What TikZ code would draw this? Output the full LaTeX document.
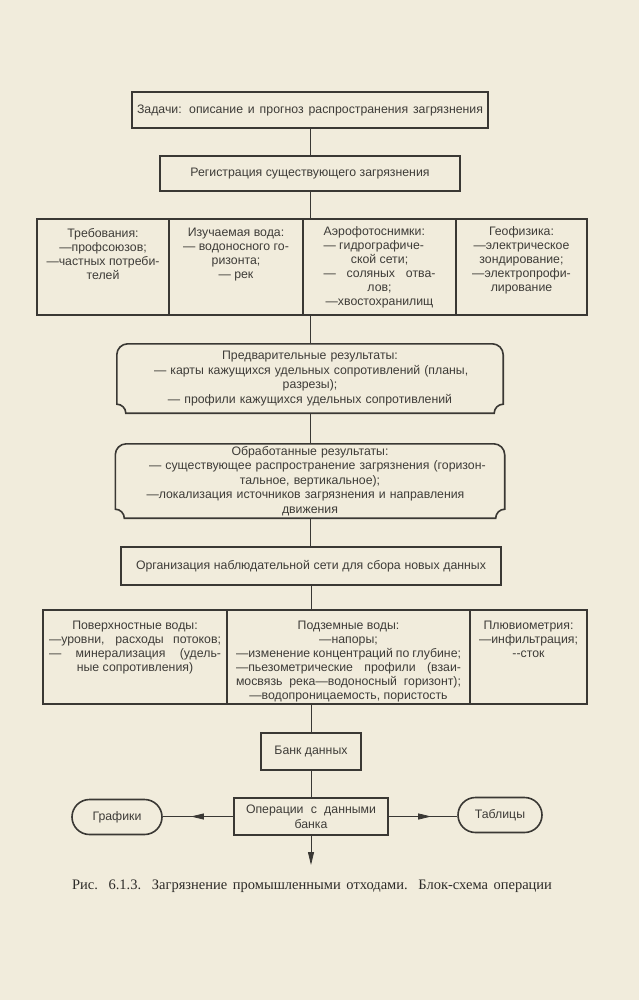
\documentclass[tikz,border=0pt]{standalone}
\usepackage{fontspec}
\setmainfont{Liberation Sans}
\newfontfamily\serifcap{Liberation Serif}
\usetikzlibrary{arrows.meta,shapes.misc,decorations.markings,calc}
\definecolor{paper}{RGB}{241,236,220}
\definecolor{linec}{RGB}{58,56,52}
\definecolor{textc}{RGB}{62,60,56}
\definecolor{capc}{RGB}{45,43,40}
\newcommand\bfnt{\fontsize{12.3}{14}\selectfont}
\newcommand\cellbox[3]{\parbox[c][#2][t]{#1}{\centering #3}}
\newcommand\jline[1]{\makebox[\linewidth][s]{#1}}
\newcommand\lline[1]{\makebox[\linewidth][l]{#1}}
\newcommand\docoutline[1]{%
  \draw[boxline] let \p1=(#1.north west), \p2=(#1.south east) in
    ({\x1},{\y2+9pt}) -- ({\x1},{\y1-11pt})
    .. controls ({\x1},{\y1-4.93pt}) and ({\x1+4.93pt},{\y1}) .. ({\x1+11pt},{\y1})
    -- ({\x2-11pt},{\y1})
    .. controls ({\x2-4.93pt},{\y1}) and ({\x2},{\y1-4.93pt}) .. ({\x2},{\y1-11pt})
    -- ({\x2},{\y2+9pt})
    .. controls ({\x2-4.97pt},{\y2+9pt}) and ({\x2-9pt},{\y2+4.97pt}) .. ({\x2-9pt},{\y2})
    -- ({\x1+9pt},{\y2})
    .. controls ({\x1+9pt},{\y2+4.97pt}) and ({\x1+4.97pt},{\y2+9pt}) .. cycle;}
\tikzset{
  boxline/.style={draw=linec, line width=1.6pt},
  box/.style={draw=linec, line width=1.6pt, inner sep=0pt, font=\bfnt, text=textc},
  docbox/.style={draw=none, inner sep=0pt, font=\fontsize{12.3}{14.5}\selectfont, text=textc, align=center},
  pill/.style={rounded rectangle, draw=linec, line width=1.6pt, inner sep=0pt, font=\bfnt, text=textc},
  conn/.style={draw=linec, line width=0.8pt},
  tri/.tip={Triangle[length=13pt,width=6pt]}
}
\begin{document}
\begin{tikzpicture}[x=1pt,y=-1pt]
\fill[paper] (0,0) rectangle (639,1000);
\useasboundingbox (0,0) rectangle (639,1000);

% top boxes
\node[box, minimum width=356pt, minimum height=36pt] (task) at (310,110)
  {\makebox[346pt][s]{Задачи: описание и прогноз распространения загрязнения}};
\node[box, minimum width=300pt, minimum height=35pt] (reg) at (310,173.5)
  {Регистрация существующего загрязнения};

% row 1
\node[box, minimum width=132pt, minimum height=96pt] (req) at (103,267)
  {\cellbox{126pt}{78pt}{Требования:\\—профсоюзов;\\—частных потреби-\\телей}};
\node[box, minimum width=134pt, minimum height=96pt] (water) at (236,267)
  {\cellbox{126pt}{78pt}{Изучаемая вода:\\— водоносного го-\\ризонта;\\— рек}};
\node[box, minimum width=153pt, minimum height=96pt] (aero) at (379.5,267)
  {\cellbox{112pt}{80pt}{\lline{Аэрофотоснимки:}\\\lline{— гидрографиче-}\\ской сети;\\\jline{— соляных отва-}\\лов;\\\mbox{—хвостохранилищ}}};
\node[box, minimum width=131pt, minimum height=96pt] (geo) at (521.5,267)
  {\cellbox{124pt}{80pt}{Геофизика:\\—электрическое\\зондирование;\\—электропрофи-\\лирование}};

% preliminary results
\node[docbox, minimum width=386pt, minimum height=69pt, text width=370pt] (prelim) at (310,378.5)
  {Предварительные результаты:\\
   \makebox[312pt][s]{— карты кажущихся удельных сопротивлений (планы,}\\
   разрезы);\\
   — профили кажущихся удельных сопротивлений};
\docoutline{prelim}

% processed results
\node[docbox, minimum width=389pt, minimum height=74pt, text width=370pt] (proc) at (310,481)
  {Обработанные результаты:\\
   \makebox[322pt][s]{— существующее распространение загрязнения (горизон-}\\
   тальное, вертикальное);\\
   \makebox[327pt][s]{—локализация источников загрязнения и направления}\\
   движения};
\docoutline{proc}

% organisation
\node[box, minimum width=380pt, minimum height=38pt] (org) at (311,566)
  {\makebox[350pt][s]{Организация наблюдательной сети для сбора новых данных}};

% row 2
\node[box, minimum width=184pt, minimum height=94pt] (surf) at (135,657)
  {\cellbox{172pt}{72pt}{Поверхностные воды:\\\jline{—уровни, расходы потоков;}\\\jline{— минерализация (удель-}\\ные сопротивления)}};
\node[box, minimum width=243pt, minimum height=94pt] (ground) at (348.5,657)
  {\cellbox{225pt}{72pt}{Подземные воды:\\—напоры;\\\jline{—изменение концентраций по глубине;}\\\jline{—пьезометрические профили (взаи-}\\\jline{мосвязь река—водоносный горизонт);}\\—водопроницаемость, пористость}};
\node[box, minimum width=117pt, minimum height=94pt] (pluv) at (528.5,657)
  {\cellbox{110pt}{72pt}{Плювиометрия:\\—инфильтрация;\\-{}-сток}};

% data bank and operations
\node[box, minimum width=100pt, minimum height=37pt] (bank) at (311,751.5) {Банк данных};
\node[box, minimum width=154pt, minimum height=37pt, align=center, font=\fontsize{12.3}{15}\selectfont] (ops) at (311,816.5)
  {\makebox[130pt][s]{Операции с данными}\\банка};
\node[pill, minimum width=90pt, minimum height=35pt] (graf) at (117,817) {Графики};
\node[pill, minimum width=84pt, minimum height=35pt] (tabl) at (500,815) {Таблицы};
\coordinate (endc) at (311,865);

% connectors
\draw[conn] (task.south) -- (reg.north);
\draw[conn] (reg.south) -- (reg.south |- aero.north);
\draw[conn] (reg.south |- aero.south) -- (prelim.north);
\draw[conn] (prelim.south) -- (proc.north);
\draw[conn] (proc.south) -- (proc.south |- org.north);
\draw[conn] (org.south) -- (org.south |- ground.north);
\draw[conn] (org.south |- ground.south) -- (bank.north);
\draw[conn] (bank.south) -- (ops.north);
\draw[conn, postaction={decorate}, decoration={markings, mark=at position 0.6 with {\arrow{tri}}}]
  (ops.west) -- (ops.west -| graf.east);
\draw[conn, postaction={decorate}, decoration={markings, mark=at position 0.62 with {\arrow{tri}}}]
  (ops.east) -- (ops.east -| tabl.west);
\draw[conn, -{tri}] (ops.south) -- (endc);

% caption
\node[font=\serifcap\fontsize{14.5}{17}\selectfont, text=capc] (cap) at (312,886)
  {\makebox[480pt][s]{Рис. 6.1.3. Загрязнение промышленными отходами. Блок-схема операции}};
\end{tikzpicture}
\end{document}
